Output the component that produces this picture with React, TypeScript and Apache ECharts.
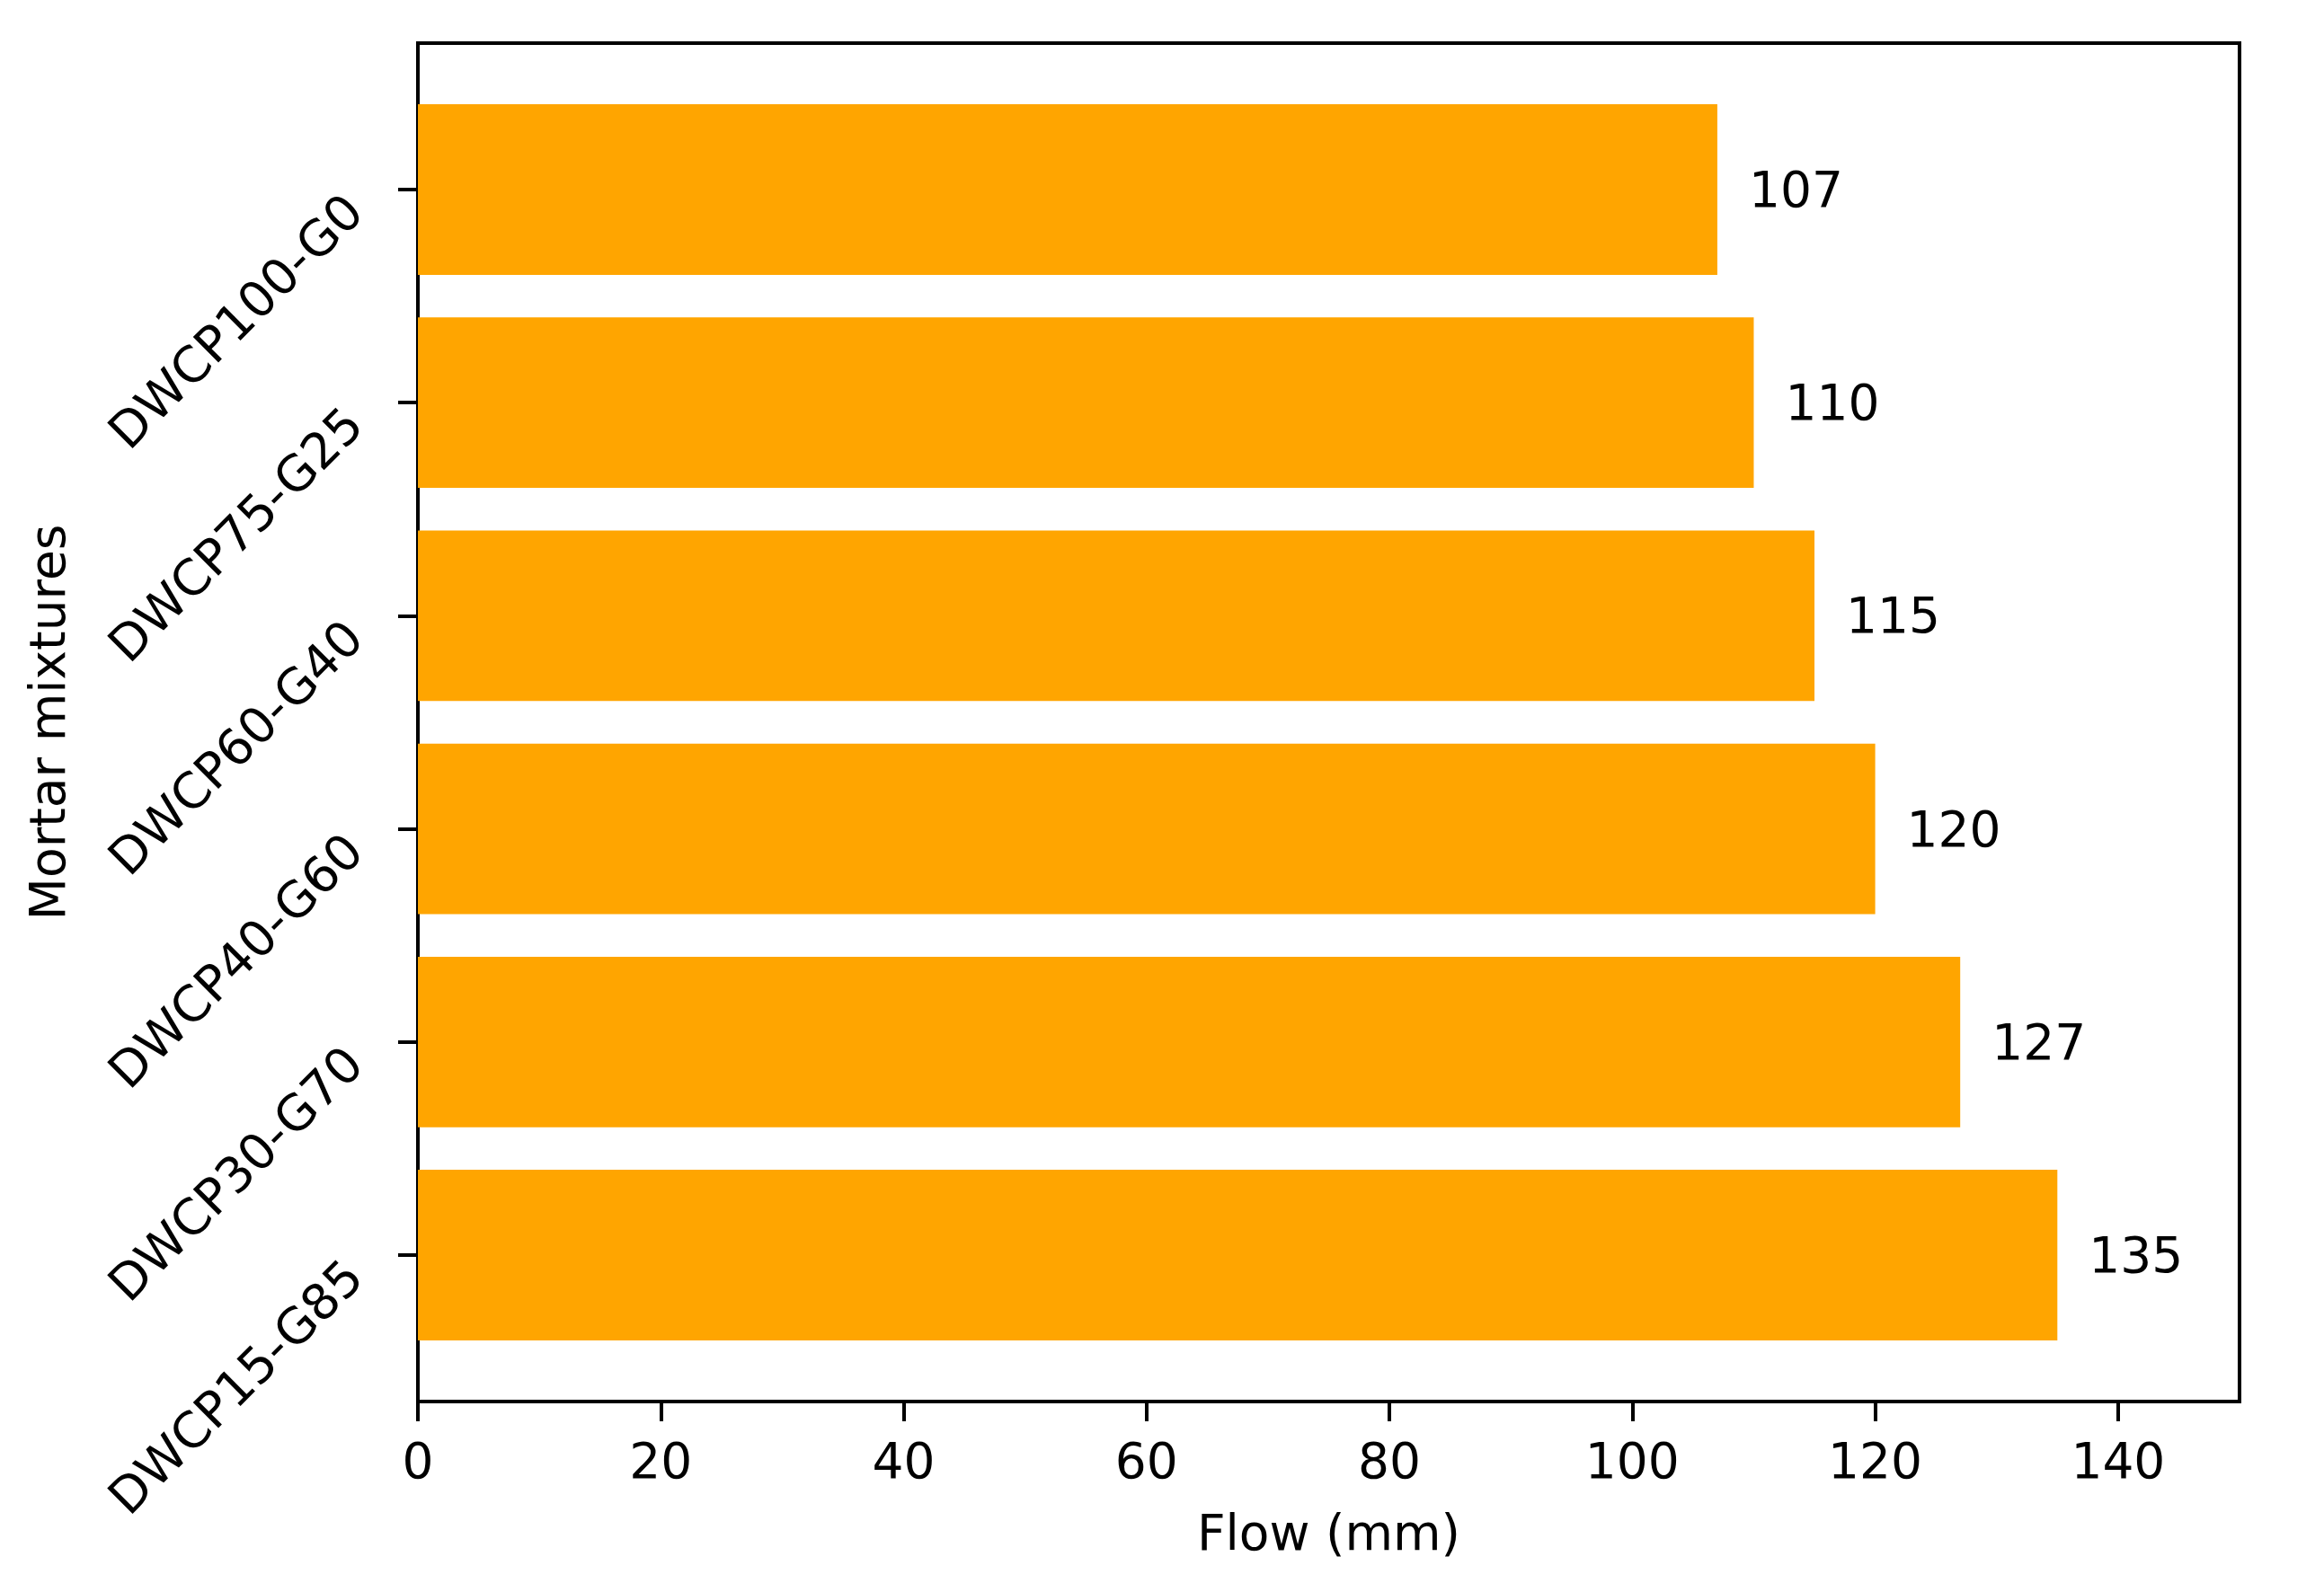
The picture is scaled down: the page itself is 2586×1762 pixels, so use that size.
import React, { useEffect, useRef } from "react";
import * as echarts from "echarts";

const categories = ["DWCP15-G85", "DWCP30-G70", "DWCP40-G60", "DWCP60-G40", "DWCP75-G25", "DWCP100-G0"];
const flowValues = [135, 127, 120, 115, 110, 107];
const xTicks = [0, 20, 40, 60, 80, 100, 120, 140];

const FONT = "DejaVu Sans";
const FS = 55;

export default function App() {
  const ref = useRef<HTMLDivElement>(null);
  useEffect(() => {
    const chart = echarts.init(ref.current!, null, { renderer: "svg" });
    const left = 465;
    const width = 2027;
    chart.setOption({
      animation: false,
      backgroundColor: "#ffffff",
      grid: [
        { left, top: 48, width, height: 1512, show: true, borderColor: "#000", borderWidth: 4, backgroundColor: "transparent" },
        { left, top: 92.4, width, height: 1423.2 },
      ],
      xAxis: [
        {
          type: "value",
          gridIndex: 0,
          min: 0,
          max: 150,
          interval: 10,
          name: "Flow (mm)",
          nameLocation: "middle",
          nameGap: 118,
          nameTextStyle: { fontFamily: FONT, fontSize: FS, color: "#000" },
          axisLine: { show: false },
          axisTick: { show: true, length: 22, lineStyle: { color: "#000", width: 4 }, customValues: xTicks },
          axisLabel: { show: true, margin: 38, fontFamily: FONT, fontSize: FS, color: "#000", customValues: xTicks },
          splitLine: { show: false },
        },
        {
          type: "value",
          gridIndex: 1,
          min: 0,
          max: 150,
          show: false,
          splitLine: { show: false },
        },
      ],
      yAxis: [
        {
          type: "value",
          gridIndex: 0,
          min: 0,
          max: 1,
          name: "Mortar mixtures",
          nameLocation: "middle",
          nameGap: 385,
          nameTextStyle: { fontFamily: FONT, fontSize: FS, color: "#000" },
          axisLine: { show: false },
          axisTick: { show: false },
          axisLabel: { show: false },
          splitLine: { show: false },
        },
        {
          type: "category",
          gridIndex: 1,
          data: categories,
          axisLine: { show: false },
          axisTick: { show: true, alignWithLabel: true, length: 22, lineStyle: { color: "#000", width: 4 } },
          axisLabel: { rotate: 45, margin: 86, verticalAlign: "top", lineHeight: 42, fontFamily: FONT, fontSize: FS, color: "#000" },
          splitLine: { show: false },
        },
      ],
      series: [
        {
          type: "bar",
          xAxisIndex: 1,
          yAxisIndex: 1,
          data: flowValues,
          barCategoryGap: "20%",
          itemStyle: { color: "#FFA500" },
          label: { show: true, position: "right", distance: 35, fontFamily: FONT, fontSize: FS, color: "#000" },
        },
      ],
    });
    return () => chart.dispose();
  }, []);
  return <div ref={ref} style={{ position: "absolute", left: 0, top: 0, width: 2586, height: 1762 }} />;
}
